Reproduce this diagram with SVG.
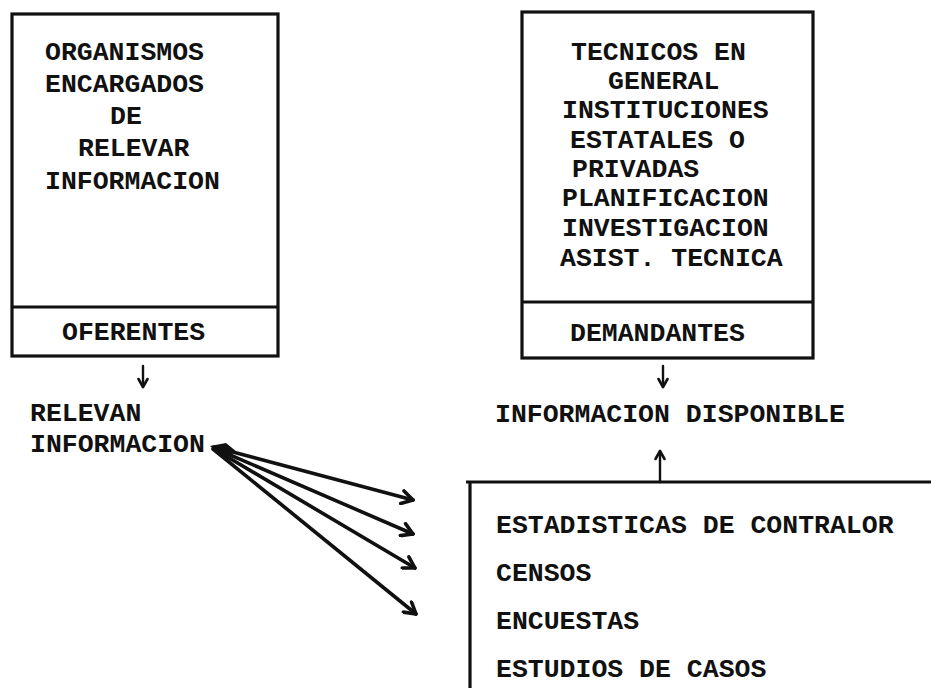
<svg xmlns="http://www.w3.org/2000/svg" width="931" height="688" viewBox="0 0 931 688">
<defs>
<style>
.t{font-family:"Liberation Mono","Courier New",monospace;font-size:26.5px;fill:#111;font-weight:bold}
.box{fill:none;stroke:#111;stroke-width:3.2}
.ln{fill:none;stroke:#111;stroke-width:3.6;stroke-linecap:round}
.thin{fill:none;stroke:#111;stroke-width:2.4;stroke-linecap:round}
</style>
<marker id="big" markerUnits="userSpaceOnUse" viewBox="0 0 16 16" refX="14" refY="8" markerWidth="16" markerHeight="16" orient="auto">
<path d="M3,1.5 L14,8 L3,14.5" fill="none" stroke="#111" stroke-width="3.6" stroke-linecap="round" stroke-linejoin="round"/>
</marker>
<marker id="small" markerUnits="userSpaceOnUse" viewBox="0 0 12 12" refX="10" refY="6" markerWidth="12" markerHeight="12" orient="auto">
<path d="M2,1.5 L10,6 L2,10.5" fill="none" stroke="#111" stroke-width="2.6" stroke-linecap="round" stroke-linejoin="round"/>
</marker>
</defs>
<rect width="931" height="688" fill="#fff"/>

<g id="oferentes">
<rect class="box" x="12" y="14" width="266" height="342"/>
<line class="box" x1="12" y1="307" x2="278" y2="307"/>
<text class="t" x="45" y="60">ORGANISMOS</text>
<text class="t" x="45" y="92">ENCARGADOS</text>
<text class="t" x="110" y="124">DE</text>
<text class="t" x="78" y="156">RELEVAR</text>
<text class="t" x="45" y="189">INFORMACION</text>
<text class="t" x="62" y="340">OFERENTES</text>
</g>

<g id="demandantes">
<rect class="box" x="522" y="12" width="291" height="346"/>
<line class="box" x1="522" y1="302" x2="813" y2="302"/>
<text class="t" x="571" y="60">TECNICOS EN</text>
<text class="t" x="608" y="89">GENERAL</text>
<text class="t" x="562" y="118">INSTITUCIONES</text>
<text class="t" x="570" y="148">ESTATALES O</text>
<text class="t" x="572" y="177">PRIVADAS</text>
<text class="t" x="562" y="206">PLANIFICACION</text>
<text class="t" x="562" y="236">INVESTIGACION</text>
<text class="t" x="560" y="266">ASIST. TECNICA</text>
<text class="t" x="570" y="341">DEMANDANTES</text>
</g>

<g id="relevan">
<text class="t" x="30" y="421">RELEVAN</text>
<text class="t" x="30" y="452">INFORMACION</text>
</g>

<g id="disponible">
<text class="t" x="495" y="422">INFORMACION DISPONIBLE</text>
</g>

<g id="fuentes">
<path class="box" d="M466,482 L931,482 M470,482 L470,688"/>
<text class="t" x="496" y="533">ESTADISTICAS DE CONTRALOR</text>
<text class="t" x="496" y="581">CENSOS</text>
<text class="t" x="496" y="629">ENCUESTAS</text>
<text class="t" x="496" y="677">ESTUDIOS DE CASOS</text>
</g>

<g id="connectors">
<line class="thin" x1="143" y1="366" x2="143" y2="387" marker-end="url(#small)"/>
<line class="thin" x1="663" y1="366" x2="663" y2="387" marker-end="url(#small)"/>
<line class="thin" x1="660" y1="482" x2="660" y2="451" marker-end="url(#small)"/>
<path d="M210,446 L226,443 L237,452 L222,457 Z" fill="#111"/>
<line class="ln" x1="214" y1="447" x2="413" y2="500" marker-end="url(#big)"/>
<line class="ln" x1="214" y1="448" x2="413" y2="534" marker-end="url(#big)"/>
<line class="ln" x1="214" y1="449" x2="415" y2="568" marker-end="url(#big)"/>
<line class="ln" x1="213" y1="449" x2="416" y2="614" marker-end="url(#big)"/>
</g>
</svg>
